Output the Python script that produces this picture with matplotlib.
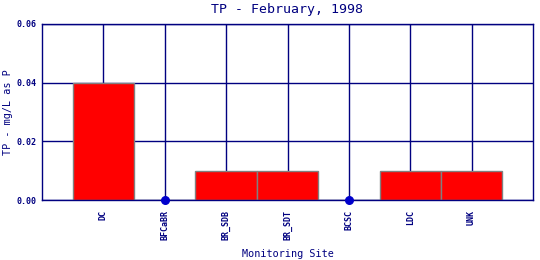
import matplotlib
matplotlib.use("Agg")
import matplotlib.pyplot as plt

sites = ["DC", "BFCaBR", "BR_SDB", "BR_SDT", "BCSC", "LDC", "UNK"]
tp = [0.04, 0.0, 0.01, 0.01, 0.0, 0.01, 0.01]
yticks = [0.00, 0.02, 0.04, 0.06]

navy = "#000080"
mono = "DejaVu Sans Mono"
fig = plt.figure(figsize=(5.4, 2.6), dpi=100)
ax = fig.add_axes([42/540, 60/260, (533-42)/540, (200-24)/260])
x = list(range(len(sites)))
ax.set_axisbelow(True)
ax.bar(x, tp, width=1.0, color="#ff0000", edgecolor="#808080", linewidth=1, zorder=2)
zx = [i for i, v in zip(x, tp) if v == 0]
zy = [v for v in tp if v == 0]
ax.scatter(zx, zy, s=30, color="#0000cc", zorder=4, clip_on=False)
ax.set_xlim(-1, len(sites))
ax.set_ylim(0, 0.06)
ax.set_xticks(x)
ax.set_xticklabels(sites, rotation=90, fontsize=6, family=mono, fontweight="bold", color=navy)
ax.set_yticks(yticks)
ax.set_yticklabels([f"{v:.2f}" for v in yticks], fontsize=6, family=mono, fontweight="bold", color=navy)
ax.tick_params(length=0, pad=4)
ax.tick_params(axis="x", pad=7)
ax.grid(True, color=navy, linewidth=1, zorder=0)
for s in ax.spines.values():
    s.set_color(navy)
    s.set_linewidth(1)
fig.text(287/540, 1 - 9/260, "TP - February, 1998", fontsize=9.5, family=mono, color=navy, ha="center", va="center")
fig.text(288/540, 1 - 254/260, "Monitoring Site", fontsize=7.3, family=mono, color=navy, ha="center", va="center")
fig.text(8/540, 1 - 112/260, "TP - mg/L as P", fontsize=7.3, family=mono, color=navy, ha="center", va="center", rotation=90)
fig.savefig("out.png", dpi=100)
